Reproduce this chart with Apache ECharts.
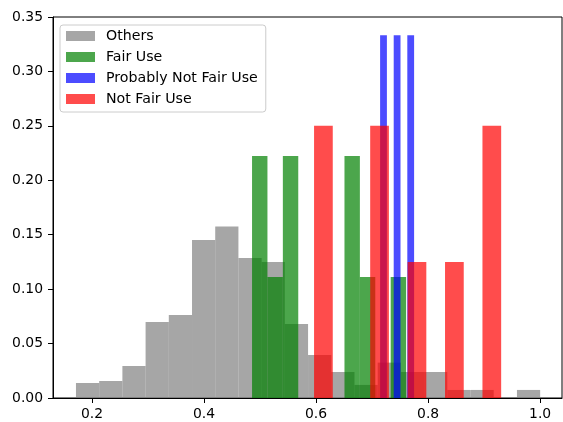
<!DOCTYPE html>
<html>
<head>
<meta charset="utf-8">
<script src="https://cdn.jsdelivr.net/npm/echarts@6/dist/echarts.min.js"></script>
<style>
html,body{margin:0;padding:0;background:#fff;}
#chart{width:563px;height:422px;}
</style>
</head>
<body>
<div id="chart"></div>
<script>
// Series names (legend order)
var seriesNames = ['Others', 'Fair Use', 'Probably Not Fair Use', 'Not Fair Use'];

// Histogram ranges [first edge, last edge] and bin heights (weights sum to 1)
var othersRange = [0.1714, 1.0];
var othersHeights = [0.0138, 0.0156, 0.0294, 0.0699, 0.0763, 0.1452, 0.1575, 0.1287, 0.1250, 0.0680,
                     0.0395, 0.0239, 0.0120, 0.0325, 0.0239, 0.0239, 0.0074, 0.0074, 0, 0.0074];

var fairRange = [0.4857, 0.7607];
var fairHeights = [0.2222, 0.1111, 0.2222, 0, 0, 0, 0.2222, 0.1111, 0, 0.1111];

var probRange = [0.7143, 0.7750];
var probHeights = [0.3333, 0, 0.3333, 0, 0.3333];

var notFairRange = [0.5964, 0.9304];
var notFairHeights = [0.25, 0, 0, 0.25, 0, 0.125, 0, 0.125, 0, 0.25];

// Axis ticks
var xTicks = [0.2, 0.4, 0.6, 0.8, 1.0];
var yTicks = [0, 0.05, 0.10, 0.15, 0.20, 0.25, 0.30, 0.35];

var colors = ['rgba(128,128,128,0.7)', 'rgba(0,128,0,0.7)', 'rgba(0,0,255,0.7)', 'rgba(255,0,0,0.7)'];

function binData(range, heights) {
  var n = heights.length, w = (range[1] - range[0]) / n, out = [];
  for (var i = 0; i < n; i++) {
    out.push([range[0] + i * w, range[0] + (i + 1) * w, heights[i]]);
  }
  return out;
}

function renderBar(params, api) {
  var h = api.value(2);
  if (!h) return null;
  var p0 = api.coord([api.value(0), h]);
  var p1 = api.coord([api.value(1), 0]);
  return {
    type: 'rect',
    shape: { x: p0[0], y: p0[1], width: p1[0] - p0[0], height: p1[1] - p0[1] },
    style: { fill: api.visual('color') }
  };
}

var allData = [
  binData(othersRange, othersHeights),
  binData(fairRange, fairHeights),
  binData(probRange, probHeights),
  binData(notFairRange, notFairHeights)
];

var font = 'DejaVu Sans';
var fs = 13.9;
var chart = echarts.init(document.getElementById('chart'), null, { renderer: 'canvas' });

chart.setOption({
  animation: false,
  backgroundColor: '#fff',
  textStyle: { fontFamily: font },
  grid: {
    left: 53, right: 1, top: 17, bottom: 24,
    show: true, borderColor: '#000', borderWidth: 1, backgroundColor: 'transparent'
  },
  legend: {
    orient: 'vertical',
    left: 60, top: 25,
    data: seriesNames,
    icon: 'rect',
    itemWidth: 29, itemHeight: 10, itemGap: 7,
    padding: [4, 8, 6, 6],
    backgroundColor: 'rgba(255,255,255,0.8)',
    borderColor: '#cccccc', borderWidth: 1, borderRadius: 3,
    textStyle: { fontFamily: font, fontSize: 14.2, color: '#000', lineHeight: 14, padding: [0, 0, 0, 6] }
  },
  xAxis: {
    type: 'value', min: 0.1304, max: 1.039,
    splitLine: { show: false },
    axisLine: { show: true, onZero: false, lineStyle: { color: '#000', width: 1 } },
    axisTick: { show: true, length: 5, lineStyle: { color: '#000' }, customValues: xTicks },
    axisLabel: {
      customValues: xTicks, margin: 9, color: '#000', fontSize: fs, fontFamily: font,
      formatter: function (v) { return v.toFixed(1); }
    }
  },
  yAxis: {
    type: 'value', min: 0, max: 0.35, interval: 0.05,
    splitLine: { show: false },
    axisLine: { show: true, lineStyle: { color: '#000', width: 1 } },
    axisTick: { show: true, length: 5, lineStyle: { color: '#000' }, customValues: yTicks },
    axisLabel: {
      customValues: yTicks, margin: 10, color: '#000', fontSize: fs, fontFamily: font,
      formatter: function (v) { return v.toFixed(2); }
    }
  },
  series: seriesNames.map(function (name, i) {
    return {
      type: 'custom', name: name,
      itemStyle: { color: colors[i] },
      encode: { x: [0, 1], y: 2 },
      renderItem: renderBar,
      data: allData[i],
      z: 2 + i
    };
  })
});
</script>
</body>
</html>
